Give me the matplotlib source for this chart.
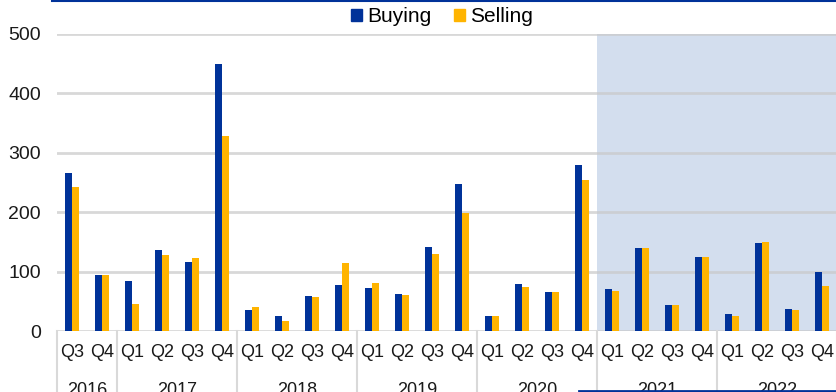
import matplotlib.pyplot as plt
from matplotlib.lines import Line2D
from matplotlib.patches import Patch
import numpy as np

plt.rcParams['font.family'] = ['Liberation Sans', 'DejaVu Sans']

years = ['2016', '2017', '2018', '2019', '2020', '2021', '2022']
quarters_per_year = [2, 4, 4, 4, 4, 4, 4]
quarter_labels = ['Q3', 'Q4'] + ['Q1', 'Q2', 'Q3', 'Q4'] * 6

buying = [266, 94, 85, 136, 116, 449, 35, 26, 59, 78, 73, 63, 141, 248,
          25, 79, 65, 279, 70, 139, 44, 125, 28, 148, 37, 100]
selling = [242, 94, 45, 128, 123, 328, 40, 17, 57, 114, 80, 61, 130, 199,
           26, 74, 65, 255, 67, 140, 43, 124, 25, 149, 36, 76]

blue = '#003299'
yellow = '#FFB400'
grid = '#c8c8c8'
txt = '#1a1a1a'

fig = plt.figure(figsize=(8.37, 3.92), dpi=100)
ax = fig.add_axes([57 / 837, 61 / 392, 780 / 837, 297 / 392])

n = len(quarter_labels)
x = np.arange(n)
w = 0.24

# projection period shading (2021 onwards)
start = sum(quarters_per_year[:5]) - 0.5
ax.axvspan(start, n - 0.5, color='#D3DEEE', zorder=0, lw=0)

for v in range(0, 501, 100):
    ax.axhline(v, color=grid, lw=2, alpha=0.7, zorder=1)

ax.bar(x - w / 2, buying, w, color=blue, zorder=2)
ax.bar(x + w / 2, selling, w, color=yellow, zorder=2)

ax.set_xlim(-0.5, n - 0.5)
ax.set_ylim(0, 500)
ax.set_yticks(range(0, 501, 100))
ax.set_xticks(x)
ax.set_xticklabels(quarter_labels)
ax.tick_params(axis='both', length=0, colors=txt)
ax.tick_params(axis='x', pad=9.5, labelsize=13)
ax.tick_params(axis='y', pad=11.5, labelsize=14)
for s in ax.spines.values():
    s.set_visible(False)

# year group labels and separators
trans = ax.get_xaxis_transform()
pos = -0.5
for yr, q in zip(years, quarters_per_year):
    ax.add_line(Line2D([pos, pos], [0, -0.3], transform=trans, color='#d9d9d9',
                       lw=1.5, clip_on=False))
    ax.annotate(yr, xy=(pos + q / 2, 0), xycoords=trans, xytext=(0, -36.5),
                textcoords='offset points', ha='center', va='top',
                fontsize=13, color=txt, annotation_clip=False)
    pos += q
ax.add_line(Line2D([pos, pos], [0, -0.3], transform=trans, color='#d9d9d9',
                   lw=1.5, clip_on=False))

handles = [Patch(color=blue, label='Buying'), Patch(color=yellow, label='Selling')]
fig.legend(handles=handles, loc='center', bbox_to_anchor=(442 / 837, 1 - 17 / 392),
           ncol=2, frameon=False, fontsize=15, handlelength=0.5, handleheight=0.5,
           handletextpad=0.25, columnspacing=1.1, borderpad=0)

# blue rules
fig.add_artist(Line2D([52 / 837, 1], [1 - 0.5 / 392] * 2, color=blue, lw=1.5))
fig.add_artist(Line2D([579 / 837, 1], [1.5 / 392] * 2, color=blue, lw=2))

fig.savefig('out.png', dpi=100)
